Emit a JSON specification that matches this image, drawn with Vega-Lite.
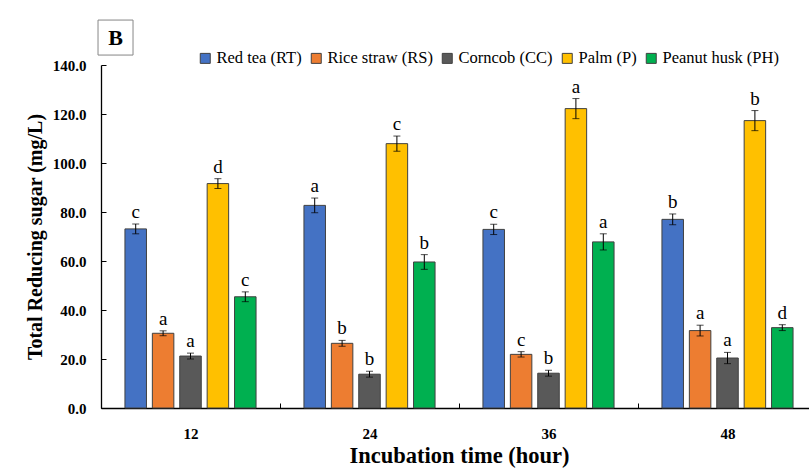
{
  "$schema": "https://vega.github.io/schema/vega-lite/v6.json",
  "width": 716,
  "height": 343,
  "autosize": {"type": "none"},
  "padding": {"left": 101, "top": 65, "right": 0, "bottom": 60},
  "background": "white",
  "config": {
    "view": {"stroke": null},
    "font": "Liberation Serif",
    "axis": {
      "labelFont": "Liberation Serif", "titleFont": "Liberation Serif",
      "labelColor": "black", "titleColor": "black", "domainColor": "black", "tickColor": "black", "grid": false
    },
    "legend": {"labelFont": "Liberation Serif"},
    "text": {"font": "Liberation Serif"}
  },
  "datasets": {
    "sugar": [
      {"time": "12", "material": "Red tea (RT)", "value": 73.1, "lo": 71.1, "hi": 75.1, "letter": "c"},
      {"time": "12", "material": "Rice straw (RS)", "value": 30.5, "lo": 29.5, "hi": 31.5, "letter": "a"},
      {"time": "12", "material": "Corncob (CC)", "value": 21.2, "lo": 20.0, "hi": 22.4, "letter": "a"},
      {"time": "12", "material": "Palm (P)", "value": 91.6, "lo": 89.6, "hi": 93.6, "letter": "d"},
      {"time": "12", "material": "Peanut husk (PH)", "value": 45.4, "lo": 43.4, "hi": 47.4, "letter": "c"},
      {"time": "24", "material": "Red tea (RT)", "value": 82.7, "lo": 79.7, "hi": 85.7, "letter": "a"},
      {"time": "24", "material": "Rice straw (RS)", "value": 26.4, "lo": 25.2, "hi": 27.6, "letter": "b"},
      {"time": "24", "material": "Corncob (CC)", "value": 13.8, "lo": 12.6, "hi": 15.0, "letter": "b"},
      {"time": "24", "material": "Palm (P)", "value": 107.9, "lo": 104.8, "hi": 111.0, "letter": "c"},
      {"time": "24", "material": "Peanut husk (PH)", "value": 59.6, "lo": 56.6, "hi": 62.6, "letter": "b"},
      {"time": "36", "material": "Red tea (RT)", "value": 72.9, "lo": 70.8, "hi": 75.0, "letter": "c"},
      {"time": "36", "material": "Rice straw (RS)", "value": 21.9, "lo": 20.8, "hi": 23.0, "letter": "c"},
      {"time": "36", "material": "Corncob (CC)", "value": 14.2, "lo": 13.0, "hi": 15.4, "letter": "b"},
      {"time": "36", "material": "Palm (P)", "value": 122.2, "lo": 118.1, "hi": 126.3, "letter": "a"},
      {"time": "36", "material": "Peanut husk (PH)", "value": 67.8, "lo": 64.5, "hi": 71.1, "letter": "a"},
      {"time": "48", "material": "Red tea (RT)", "value": 77.0, "lo": 74.8, "hi": 79.2, "letter": "b"},
      {"time": "48", "material": "Rice straw (RS)", "value": 31.6, "lo": 29.4, "hi": 33.8, "letter": "a"},
      {"time": "48", "material": "Corncob (CC)", "value": 20.4, "lo": 18.1, "hi": 22.7, "letter": "a"},
      {"time": "48", "material": "Palm (P)", "value": 117.3, "lo": 113.2, "hi": 121.4, "letter": "b"},
      {"time": "48", "material": "Peanut husk (PH)", "value": 32.8, "lo": 31.6, "hi": 34.0, "letter": "d"}
    ],
    "panel": [{"label": "B"}]
  },
  "layer": [
    {
      "data": {"name": "sugar"},
      "mark": {"type": "bar", "stroke": "#404040", "strokeWidth": 1},
      "encoding": {
        "x": {
          "field": "time", "type": "nominal", "sort": ["12", "24", "36", "48"],
          "scale": {"paddingInner": 0, "paddingOuter": 0},
          "axis": {
            "title": "Incubation time (hour)", "titleFontSize": 22.5, "titleFontWeight": "bold", "titlePadding": 3,
            "labelAngle": 0, "labelFontSize": 15, "labelFontWeight": "bold", "labelPadding": 23,
            "tickBand": "extent", "tickSize": -5, "domainWidth": 1.3
          }
        },
        "xOffset": {
          "field": "material", "type": "nominal",
          "sort": ["Red tea (RT)", "Rice straw (RS)", "Corncob (CC)", "Palm (P)", "Peanut husk (PH)"],
          "scale": {"paddingInner": 0.215, "paddingOuter": 0.874}
        },
        "y": {
          "field": "value", "type": "quantitative",
          "scale": {"domain": [0, 140], "nice": false},
          "axis": {
            "title": "Total Reducing sugar (mg/L)", "titleFontSize": 20, "titleFontWeight": "bold", "titlePadding": 7,
            "values": [0, 20, 40, 60, 80, 100, 120, 140], "format": ".1f",
            "labelFontSize": 15, "labelFontWeight": "bold", "labelPadding": 20,
            "tickSize": -5, "domainWidth": 1.3
          }
        },
        "color": {
          "field": "material", "type": "nominal",
          "scale": {
            "domain": ["Red tea (RT)", "Rice straw (RS)", "Corncob (CC)", "Palm (P)", "Peanut husk (PH)"],
            "range": ["#4472C4", "#ED7D31", "#595959", "#FFC000", "#00B050"]
          },
          "legend": {
            "title": null, "orient": "none", "direction": "horizontal", "legendX": 96, "legendY": -15,
            "padding": 0, "symbolType": "square", "symbolSize": 100, "symbolStrokeColor": "#404040",
            "symbolStrokeWidth": 1, "labelFont": "Liberation Serif", "labelFontSize": 16.5, "labelColor": "black",
            "labelOffset": 3, "columnPadding": 6
          }
        }
      }
    },
    {
      "data": {"name": "sugar"},
      "mark": {"type": "rule", "color": "black", "strokeWidth": 1},
      "encoding": {
        "x": {"field": "time", "type": "nominal", "sort": ["12", "24", "36", "48"]},
        "xOffset": {"field": "material", "type": "nominal", "sort": ["Red tea (RT)", "Rice straw (RS)", "Corncob (CC)", "Palm (P)", "Peanut husk (PH)"]},
        "y": {"field": "lo", "type": "quantitative"},
        "y2": {"field": "hi"}
      }
    },
    {
      "data": {"name": "sugar"},
      "mark": {"type": "tick", "color": "black", "thickness": 1, "size": 7},
      "encoding": {
        "x": {"field": "time", "type": "nominal", "sort": ["12", "24", "36", "48"]},
        "xOffset": {"field": "material", "type": "nominal", "sort": ["Red tea (RT)", "Rice straw (RS)", "Corncob (CC)", "Palm (P)", "Peanut husk (PH)"]},
        "y": {"field": "hi", "type": "quantitative"}
      }
    },
    {
      "data": {"name": "sugar"},
      "mark": {"type": "tick", "color": "black", "thickness": 1, "size": 7},
      "encoding": {
        "x": {"field": "time", "type": "nominal", "sort": ["12", "24", "36", "48"]},
        "xOffset": {"field": "material", "type": "nominal", "sort": ["Red tea (RT)", "Rice straw (RS)", "Corncob (CC)", "Palm (P)", "Peanut husk (PH)"]},
        "y": {"field": "lo", "type": "quantitative"}
      }
    },
    {
      "data": {"name": "sugar"},
      "mark": {"type": "text", "font": "Liberation Serif", "fontSize": 19, "color": "black", "baseline": "alphabetic", "dy": -6},
      "encoding": {
        "x": {"field": "time", "type": "nominal", "sort": ["12", "24", "36", "48"]},
        "xOffset": {"field": "material", "type": "nominal", "sort": ["Red tea (RT)", "Rice straw (RS)", "Corncob (CC)", "Palm (P)", "Peanut husk (PH)"]},
        "y": {"field": "hi", "type": "quantitative"},
        "text": {"field": "letter"}
      }
    },
    {
      "data": {"name": "panel"},
      "mark": {
        "type": "point", "filled": false, "stroke": "#555555", "strokeWidth": 1, "size": 1225,
        "shape": "M-0.17,-1L1.83,-1L1.83,1L-0.17,1Z"
      },
      "encoding": {
        "x": {"datum": "12", "bandPosition": 0},
        "y": {"datum": 151.2}
      }
    },
    {
      "data": {"name": "panel"},
      "mark": {"type": "text", "font": "Liberation Serif", "fontSize": 22, "fontWeight": "bold", "color": "black", "baseline": "middle", "dx": 14.5},
      "encoding": {
        "x": {"datum": "12", "bandPosition": 0},
        "y": {"datum": 151.2},
        "text": {"field": "label"}
      }
    }
  ]
}
